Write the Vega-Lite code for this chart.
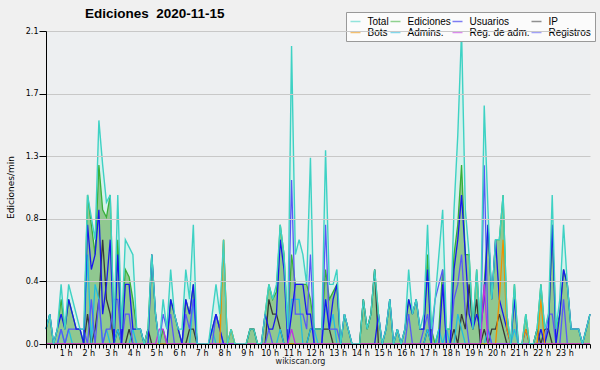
{
 "$schema": "https://vega.github.io/schema/vega-lite/v6.json",
 "width": 544, "height": 313,
 "autosize": {"type": "none"},
 "padding": {"left": 46, "top": 31, "right": 10, "bottom": 26},
 "background": "#f0f0f0",
 "config": {"view": {"fill": "#edeff1", "stroke": null}, "font": "DejaVu Sans"},
 "title": {"text": "Ediciones\u00a0 2020-11-15", "anchor": "start", "frame": "group", "dx": 39, "dy": 18, "offset": 9, "fontSize": 13.5, "fontWeight": "bold", "font": "Liberation Sans", "color": "#000"},
 "data": {"values": [
{"m":0,"tot":0.1,"ed":0.1,"usr":0.1,"ip":0,"bot":0,"adm":0,"radm":0,"reg":0},
{"m":10,"tot":0.2,"ed":0.2,"usr":0.2,"ip":0,"bot":0,"adm":0,"radm":0,"reg":0},
{"m":20,"tot":0,"ed":0,"usr":0,"ip":0,"bot":0,"adm":0,"radm":0,"reg":0},
{"m":30,"tot":0.1,"ed":0.1,"usr":0.1,"ip":0,"bot":0,"adm":0,"radm":0,"reg":0},
{"m":40,"tot":0.4,"ed":0.3,"usr":0.2,"ip":0,"bot":0,"adm":0.1,"radm":0,"reg":0.1},
{"m":50,"tot":0.1,"ed":0.1,"usr":0.1,"ip":0,"bot":0,"adm":0,"radm":0,"reg":0},
{"m":60,"tot":0.4,"ed":0.3,"usr":0.3,"ip":0,"bot":0,"adm":0.1,"radm":0,"reg":0.1},
{"m":70,"tot":0.3,"ed":0.2,"usr":0.2,"ip":0,"bot":0,"adm":0,"radm":0,"reg":0.1},
{"m":80,"tot":0.2,"ed":0.1,"usr":0.1,"ip":0,"bot":0,"adm":0,"radm":0,"reg":0.1},
{"m":90,"tot":0.1,"ed":0.1,"usr":0.1,"ip":0,"bot":0,"adm":0,"radm":0,"reg":0.1},
{"m":100,"tot":0.1,"ed":0,"usr":0,"ip":0,"bot":0,"adm":0,"radm":0,"reg":0.1},
{"m":110,"tot":1.0,"ed":1.0,"usr":0.8,"ip":0.2,"bot":0,"adm":0.6,"radm":0,"reg":0},
{"m":120,"tot":0.85,"ed":0.8,"usr":0.5,"ip":0,"bot":0,"adm":0,"radm":0,"reg":0.3},
{"m":130,"tot":0.7,"ed":0.6,"usr":0.6,"ip":0.1,"bot":0,"adm":0.4,"radm":0,"reg":0},
{"m":140,"tot":1.5,"ed":1.2,"usr":0.9,"ip":0.3,"bot":0,"adm":0.3,"radm":0,"reg":0.3},
{"m":150,"tot":1.2,"ed":0.9,"usr":0.2,"ip":0.7,"bot":0,"adm":0,"radm":0,"reg":0},
{"m":160,"tot":0.95,"ed":0.85,"usr":0.4,"ip":0.3,"bot":0,"adm":0.1,"radm":0,"reg":0.1},
{"m":170,"tot":1.0,"ed":1.0,"usr":0.7,"ip":0.2,"bot":0,"adm":0,"radm":0,"reg":0.1},
{"m":180,"tot":0.1,"ed":0.1,"usr":0,"ip":0,"bot":0,"adm":0,"radm":0,"reg":0.3},
{"m":190,"tot":1.0,"ed":0.7,"usr":0.6,"ip":0.1,"bot":0,"adm":0.1,"radm":0,"reg":0.3},
{"m":200,"tot":0.1,"ed":0.1,"usr":0,"ip":0,"bot":0,"adm":0,"radm":0,"reg":0},
{"m":210,"tot":0.7,"ed":0.5,"usr":0.4,"ip":0,"bot":0,"adm":0,"radm":0,"reg":0.2},
{"m":220,"tot":0.65,"ed":0.45,"usr":0.4,"ip":0.1,"bot":0,"adm":0,"radm":0,"reg":0.2},
{"m":230,"tot":0.6,"ed":0.3,"usr":0.1,"ip":0,"bot":0,"adm":0.1,"radm":0,"reg":0},
{"m":240,"tot":0.1,"ed":0.1,"usr":0.1,"ip":0,"bot":0,"adm":0,"radm":0,"reg":0},
{"m":250,"tot":0.1,"ed":0.1,"usr":0.1,"ip":0,"bot":0,"adm":0,"radm":0,"reg":0},
{"m":260,"tot":0,"ed":0,"usr":0,"ip":0,"bot":0,"adm":0,"radm":0,"reg":0},
{"m":270,"tot":0.1,"ed":0.1,"usr":0,"ip":0.1,"bot":0,"adm":0,"radm":0,"reg":0},
{"m":280,"tot":0.6,"ed":0.6,"usr":0.6,"ip":0,"bot":0,"adm":0,"radm":0,"reg":0},
{"m":290,"tot":0.2,"ed":0.2,"usr":0.2,"ip":0,"bot":0,"adm":0,"radm":0,"reg":0},
{"m":300,"tot":0,"ed":0,"usr":0,"ip":0,"bot":0,"adm":0,"radm":0.1,"reg":0},
{"m":310,"tot":0.3,"ed":0.1,"usr":0,"ip":0,"bot":0,"adm":0,"radm":0.1,"reg":0.2},
{"m":320,"tot":0.1,"ed":0,"usr":0,"ip":0,"bot":0,"adm":0,"radm":0,"reg":0.1},
{"m":330,"tot":0.5,"ed":0.3,"usr":0.3,"ip":0,"bot":0,"adm":0,"radm":0,"reg":0.2},
{"m":340,"tot":0.2,"ed":0.2,"usr":0.2,"ip":0,"bot":0,"adm":0,"radm":0,"reg":0},
{"m":350,"tot":0.1,"ed":0.1,"usr":0.1,"ip":0,"bot":0,"adm":0,"radm":0,"reg":0},
{"m":360,"tot":0.1,"ed":0,"usr":0,"ip":0,"bot":0,"adm":0,"radm":0,"reg":0},
{"m":370,"tot":0.5,"ed":0.3,"usr":0.3,"ip":0,"bot":0,"adm":0,"radm":0,"reg":0.2},
{"m":380,"tot":0.3,"ed":0.2,"usr":0.2,"ip":0.1,"bot":0,"adm":0,"radm":0,"reg":0.1},
{"m":390,"tot":0.8,"ed":0.4,"usr":0.4,"ip":0.1,"bot":0,"adm":0.3,"radm":0,"reg":0.3},
{"m":400,"tot":0,"ed":0,"usr":0,"ip":0,"bot":0,"adm":0,"radm":0,"reg":0},
{"m":410,"tot":0,"ed":0,"usr":0,"ip":0,"bot":0,"adm":0,"radm":0,"reg":0},
{"m":420,"tot":0,"ed":0,"usr":0,"ip":0,"bot":0,"adm":0,"radm":0,"reg":0},
{"m":430,"tot":0,"ed":0,"usr":0,"ip":0,"bot":0,"adm":0,"radm":0,"reg":0},
{"m":440,"tot":0.2,"ed":0.1,"usr":0.1,"ip":0,"bot":0,"adm":0.1,"radm":0,"reg":0},
{"m":450,"tot":0.4,"ed":0.2,"usr":0.2,"ip":0,"bot":0,"adm":0,"radm":0,"reg":0.2},
{"m":460,"tot":0.2,"ed":0.1,"usr":0.1,"ip":0,"bot":0,"adm":0,"radm":0,"reg":0.1},
{"m":470,"tot":0.7,"ed":0.7,"usr":0,"ip":0,"bot":0.7,"adm":0,"radm":0,"reg":0},
{"m":480,"tot":0,"ed":0,"usr":0,"ip":0,"bot":0,"adm":0,"radm":0,"reg":0},
{"m":490,"tot":0.1,"ed":0.1,"usr":0,"ip":0,"bot":0.1,"adm":0,"radm":0,"reg":0},
{"m":500,"tot":0,"ed":0,"usr":0,"ip":0,"bot":0,"adm":0,"radm":0,"reg":0},
{"m":510,"tot":0,"ed":0,"usr":0,"ip":0,"bot":0,"adm":0,"radm":0,"reg":0},
{"m":520,"tot":0,"ed":0,"usr":0,"ip":0,"bot":0,"adm":0,"radm":0,"reg":0},
{"m":530,"tot":0,"ed":0,"usr":0,"ip":0,"bot":0,"adm":0,"radm":0,"reg":0},
{"m":540,"tot":0.1,"ed":0.1,"usr":0,"ip":0.1,"bot":0,"adm":0,"radm":0,"reg":0},
{"m":550,"tot":0.1,"ed":0.1,"usr":0,"ip":0.1,"bot":0,"adm":0,"radm":0,"reg":0},
{"m":560,"tot":0,"ed":0,"usr":0,"ip":0,"bot":0,"adm":0,"radm":0,"reg":0},
{"m":570,"tot":0,"ed":0,"usr":0,"ip":0,"bot":0,"adm":0,"radm":0,"reg":0},
{"m":580,"tot":0.2,"ed":0.2,"usr":0.2,"ip":0,"bot":0,"adm":0,"radm":0,"reg":0},
{"m":590,"tot":0.4,"ed":0.4,"usr":0.1,"ip":0.3,"bot":0,"adm":0,"radm":0,"reg":0.1},
{"m":600,"tot":0.3,"ed":0.3,"usr":0.1,"ip":0.2,"bot":0,"adm":0,"radm":0,"reg":0},
{"m":610,"tot":0.4,"ed":0.35,"usr":0.2,"ip":0.2,"bot":0,"adm":0,"radm":0,"reg":0},
{"m":620,"tot":0.8,"ed":0.8,"usr":0.7,"ip":0.1,"bot":0,"adm":0.1,"radm":0,"reg":0},
{"m":630,"tot":0.6,"ed":0.6,"usr":0.5,"ip":0,"bot":0,"adm":0,"radm":0,"reg":0},
{"m":640,"tot":0.1,"ed":0.1,"usr":0,"ip":0,"bot":0,"adm":0,"radm":0,"reg":0},
{"m":650,"tot":2.0,"ed":0.6,"usr":0.2,"ip":0,"bot":0,"adm":0.3,"radm":0.1,"reg":1.1},
{"m":660,"tot":0.6,"ed":0.4,"usr":0.4,"ip":0,"bot":0,"adm":0.3,"radm":0,"reg":0.2},
{"m":670,"tot":0.7,"ed":0.4,"usr":0.4,"ip":0,"bot":0,"adm":0.3,"radm":0,"reg":0.2},
{"m":680,"tot":0.6,"ed":0.4,"usr":0.4,"ip":0,"bot":0,"adm":0,"radm":0,"reg":0.2},
{"m":690,"tot":0.4,"ed":0.4,"usr":0.2,"ip":0,"bot":0,"adm":0,"radm":0,"reg":0.1},
{"m":700,"tot":1.25,"ed":0.3,"usr":0.2,"ip":0.1,"bot":0,"adm":0.1,"radm":0,"reg":0.6},
{"m":710,"tot":0.1,"ed":0.1,"usr":0,"ip":0.1,"bot":0,"adm":0.1,"radm":0,"reg":0},
{"m":720,"tot":0.1,"ed":0.1,"usr":0,"ip":0.1,"bot":0,"adm":0,"radm":0,"reg":0},
{"m":730,"tot":0.1,"ed":0.1,"usr":0,"ip":0.1,"bot":0,"adm":0,"radm":0,"reg":0},
{"m":740,"tot":1.3,"ed":0.5,"usr":0.3,"ip":0.1,"bot":0,"adm":0.3,"radm":0,"reg":0.8},
{"m":750,"tot":0.4,"ed":0.3,"usr":0.1,"ip":0.1,"bot":0,"adm":0.1,"radm":0,"reg":0.1},
{"m":760,"tot":0.4,"ed":0.35,"usr":0.3,"ip":0,"bot":0,"adm":0.2,"radm":0,"reg":0.1},
{"m":770,"tot":0.5,"ed":0.4,"usr":0.4,"ip":0,"bot":0,"adm":0,"radm":0,"reg":0.1},
{"m":780,"tot":0,"ed":0,"usr":0,"ip":0,"bot":0,"adm":0,"radm":0,"reg":0},
{"m":790,"tot":0.2,"ed":0.2,"usr":0.2,"ip":0,"bot":0,"adm":0,"radm":0,"reg":0},
{"m":800,"tot":0.1,"ed":0.1,"usr":0.1,"ip":0,"bot":0,"adm":0,"radm":0,"reg":0},
{"m":810,"tot":0,"ed":0,"usr":0,"ip":0,"bot":0,"adm":0,"radm":0,"reg":0},
{"m":820,"tot":0,"ed":0,"usr":0,"ip":0,"bot":0,"adm":0,"radm":0,"reg":0},
{"m":830,"tot":0,"ed":0,"usr":0,"ip":0,"bot":0,"adm":0,"radm":0,"reg":0},
{"m":840,"tot":0.3,"ed":0.3,"usr":0,"ip":0.3,"bot":0,"adm":0,"radm":0,"reg":0},
{"m":850,"tot":0.1,"ed":0.1,"usr":0,"ip":0.1,"bot":0,"adm":0,"radm":0,"reg":0},
{"m":860,"tot":0.2,"ed":0.2,"usr":0,"ip":0.2,"bot":0,"adm":0,"radm":0,"reg":0},
{"m":870,"tot":0.5,"ed":0.5,"usr":0,"ip":0.5,"bot":0,"adm":0,"radm":0,"reg":0},
{"m":880,"tot":0.2,"ed":0.2,"usr":0.2,"ip":0,"bot":0,"adm":0,"radm":0,"reg":0},
{"m":890,"tot":0,"ed":0,"usr":0,"ip":0,"bot":0,"adm":0,"radm":0,"reg":0},
{"m":900,"tot":0.1,"ed":0.1,"usr":0.1,"ip":0,"bot":0,"adm":0,"radm":0,"reg":0},
{"m":910,"tot":0.3,"ed":0.3,"usr":0.3,"ip":0,"bot":0,"adm":0,"radm":0,"reg":0},
{"m":920,"tot":0,"ed":0,"usr":0,"ip":0,"bot":0,"adm":0,"radm":0,"reg":0},
{"m":930,"tot":0.1,"ed":0.1,"usr":0.1,"ip":0,"bot":0,"adm":0,"radm":0,"reg":0},
{"m":940,"tot":0,"ed":0,"usr":0,"ip":0,"bot":0,"adm":0,"radm":0,"reg":0},
{"m":950,"tot":0.1,"ed":0.1,"usr":0.1,"ip":0,"bot":0,"adm":0,"radm":0,"reg":0},
{"m":960,"tot":0.5,"ed":0.3,"usr":0.3,"ip":0,"bot":0,"adm":0,"radm":0,"reg":0.2},
{"m":970,"tot":0.2,"ed":0.2,"usr":0.2,"ip":0,"bot":0,"adm":0,"radm":0,"reg":0},
{"m":980,"tot":0.3,"ed":0.3,"usr":0.3,"ip":0,"bot":0,"adm":0,"radm":0,"reg":0},
{"m":990,"tot":0.1,"ed":0.1,"usr":0.1,"ip":0,"bot":0,"adm":0,"radm":0,"reg":0},
{"m":1000,"tot":0.2,"ed":0.1,"usr":0.1,"ip":0,"bot":0,"adm":0,"radm":0,"reg":0.1},
{"m":1010,"tot":0.8,"ed":0.6,"usr":0.5,"ip":0.1,"bot":0,"adm":0.1,"radm":0,"reg":0.2},
{"m":1020,"tot":0.1,"ed":0.1,"usr":0,"ip":0,"bot":0,"adm":0,"radm":0,"reg":0},
{"m":1030,"tot":0.3,"ed":0,"usr":0,"ip":0,"bot":0,"adm":0,"radm":0,"reg":0.3},
{"m":1040,"tot":0.6,"ed":0.1,"usr":0,"ip":0,"bot":0,"adm":0.1,"radm":0,"reg":0.4},
{"m":1050,"tot":0.9,"ed":0.5,"usr":0.4,"ip":0,"bot":0,"adm":0,"radm":0,"reg":0.5},
{"m":1060,"tot":0.1,"ed":0.1,"usr":0,"ip":0,"bot":0,"adm":0.1,"radm":0,"reg":0},
{"m":1070,"tot":0.1,"ed":0.1,"usr":0,"ip":0,"bot":0,"adm":0,"radm":0,"reg":0},
{"m":1080,"tot":0.9,"ed":0.6,"usr":0.5,"ip":0.1,"bot":0,"adm":0,"radm":0,"reg":0.3},
{"m":1090,"tot":1.4,"ed":0.8,"usr":0.7,"ip":0,"bot":0,"adm":0.2,"radm":0,"reg":0.4},
{"m":1100,"tot":2.1,"ed":1.2,"usr":1.0,"ip":0.2,"bot":0,"adm":0.1,"radm":0,"reg":0.6},
{"m":1110,"tot":0.9,"ed":0.6,"usr":0.6,"ip":0.1,"bot":0,"adm":0,"radm":0,"reg":0.2},
{"m":1120,"tot":0.6,"ed":0.6,"usr":0.2,"ip":0.4,"bot":0,"adm":0,"radm":0,"reg":0},
{"m":1130,"tot":0.1,"ed":0.1,"usr":0.1,"ip":0.1,"bot":0,"adm":0,"radm":0,"reg":0},
{"m":1140,"tot":0.5,"ed":0.5,"usr":0.2,"ip":0.3,"bot":0,"adm":0,"radm":0,"reg":0},
{"m":1150,"tot":0.1,"ed":0.1,"usr":0.1,"ip":0,"bot":0,"adm":0,"radm":0,"reg":0},
{"m":1160,"tot":1.6,"ed":0.4,"usr":0.3,"ip":0.1,"bot":0,"adm":0,"radm":0.4,"reg":1.2},
{"m":1170,"tot":0.9,"ed":0.8,"usr":0.8,"ip":0,"bot":0,"adm":0.1,"radm":0,"reg":0.1},
{"m":1180,"tot":0.3,"ed":0.3,"usr":0.3,"ip":0.1,"bot":0,"adm":0,"radm":0,"reg":0},
{"m":1190,"tot":0.7,"ed":0.7,"usr":0.7,"ip":0.1,"bot":0,"adm":0,"radm":0,"reg":0},
{"m":1200,"tot":0.7,"ed":0.7,"usr":0.3,"ip":0.2,"bot":0.3,"adm":0,"radm":0,"reg":0},
{"m":1210,"tot":1.0,"ed":1.0,"usr":0.2,"ip":0.1,"bot":0.7,"adm":0,"radm":0,"reg":0},
{"m":1220,"tot":0.2,"ed":0.2,"usr":0.1,"ip":0,"bot":0.1,"adm":0,"radm":0,"reg":0},
{"m":1230,"tot":0,"ed":0,"usr":0,"ip":0,"bot":0,"adm":0,"radm":0,"reg":0},
{"m":1240,"tot":0.4,"ed":0.4,"usr":0.3,"ip":0,"bot":0,"adm":0.1,"radm":0,"reg":0},
{"m":1250,"tot":0,"ed":0,"usr":0,"ip":0,"bot":0,"adm":0,"radm":0,"reg":0},
{"m":1260,"tot":0,"ed":0,"usr":0,"ip":0,"bot":0,"adm":0,"radm":0,"reg":0},
{"m":1270,"tot":0.2,"ed":0.2,"usr":0.1,"ip":0,"bot":0.1,"adm":0,"radm":0,"reg":0},
{"m":1280,"tot":0,"ed":0,"usr":0,"ip":0,"bot":0,"adm":0,"radm":0,"reg":0},
{"m":1290,"tot":0,"ed":0,"usr":0,"ip":0,"bot":0,"adm":0,"radm":0,"reg":0},
{"m":1300,"tot":0.1,"ed":0.1,"usr":0,"ip":0.1,"bot":0,"adm":0,"radm":0,"reg":0},
{"m":1310,"tot":0.4,"ed":0.4,"usr":0.1,"ip":0,"bot":0.3,"adm":0,"radm":0,"reg":0},
{"m":1320,"tot":0.1,"ed":0.1,"usr":0,"ip":0.1,"bot":0,"adm":0,"radm":0,"reg":0},
{"m":1330,"tot":0.2,"ed":0.1,"usr":0.1,"ip":0.1,"bot":0,"adm":0,"radm":0,"reg":0.2},
{"m":1340,"tot":1.0,"ed":0.8,"usr":0.8,"ip":0,"bot":0,"adm":0,"radm":0,"reg":0.2},
{"m":1350,"tot":0.1,"ed":0.1,"usr":0,"ip":0,"bot":0,"adm":0,"radm":0,"reg":0},
{"m":1360,"tot":0.3,"ed":0.2,"usr":0.2,"ip":0,"bot":0,"adm":0,"radm":0,"reg":0},
{"m":1370,"tot":0.8,"ed":0.5,"usr":0.5,"ip":0,"bot":0,"adm":0,"radm":0,"reg":0.3},
{"m":1380,"tot":0.4,"ed":0.4,"usr":0.4,"ip":0,"bot":0,"adm":0,"radm":0,"reg":0},
{"m":1390,"tot":0.1,"ed":0.1,"usr":0.1,"ip":0,"bot":0,"adm":0,"radm":0,"reg":0},
{"m":1400,"tot":0.1,"ed":0.1,"usr":0.1,"ip":0,"bot":0,"adm":0,"radm":0,"reg":0},
{"m":1410,"tot":0.1,"ed":0.1,"usr":0.1,"ip":0,"bot":0,"adm":0,"radm":0,"reg":0},
{"m":1420,"tot":0,"ed":0,"usr":0,"ip":0,"bot":0,"adm":0,"radm":0,"reg":0},
{"m":1430,"tot":0.1,"ed":0.1,"usr":0.1,"ip":0,"bot":0,"adm":0,"radm":0,"reg":0},
{"m":1440,"tot":0.2,"ed":0.2,"usr":0.2,"ip":0,"bot":0,"adm":0,"radm":0,"reg":0}
 ]},
 "encoding": {
  "x": {"field": "m", "type": "quantitative", "scale": {"domain": [0, 1440], "nice": false, "zero": false},
   "axis": {"values": [0,10,20,30,40,50,60,70,80,90,100,110,120,130,140,150,160,170,180,190,200,210,220,230,240,250,260,270,280,290,300,310,320,330,340,350,360,370,380,390,400,410,420,430,440,450,460,470,480,490,500,510,520,530,540,550,560,570,580,590,600,610,620,630,640,650,660,670,680,690,700,710,720,730,740,750,760,770,780,790,800,810,820,830,840,850,860,870,880,890,900,910,920,930,940,950,960,970,980,990,1000,1010,1020,1030,1040,1050,1060,1070,1080,1090,1100,1110,1120,1130,1140,1150,1160,1170,1180,1190,1200,1210,1220,1230,1240,1250,1260,1270,1280,1290,1300,1310,1320,1330,1340,1350,1360,1370,1380,1390,1400,1410,1420,1430,1440],
    "labelExpr": "datum.value % 60 == 0 && datum.value > 0 && datum.value < 1440 ? (datum.value / 60) + ' h' : ''",
    "labelOverlap": false, "labelBound": false, "labelFlush": false,
    "labelFontSize": 8, "labelPadding": 1, "labelOffset": -3, "labelColor": "#000",
    "tickSize": 4, "tickColor": "#000", "domainColor": "#000", "grid": false, "zindex": 1,
    "title": "wikiscan.org", "titleFontSize": 8, "titleFontWeight": "normal", "titleColor": "#222", "titleX": 254, "titleY": 13, "titleBaseline": "top"}}
 },
 "layer": [
  {"mark": {"type": "area", "color": "#d5f1ec", "opacity": 1, "interpolate": "linear"},
   "encoding": {"y": {"field": "tot", "type": "quantitative", "scale": {"domain": [0, 2.1], "nice": false, "zero": true},
    "axis": {"values": [0,0.105,0.21,0.315,0.42,0.525,0.63,0.735,0.84,0.945,1.05,1.155,1.26,1.365,1.47,1.575,1.68,1.785,1.89,1.995,2.1],
     "labelExpr": "round(datum.value / 0.105) % 4 == 0 ? format(datum.value, '.1f') : ''",
     "labelOverlap": false, "labelBound": false, "labelFlush": false,
     "labelFontSize": 8, "labelPadding": 1, "labelColor": "#000",
     "tickSize": {"condition": {"test": "round(datum.value / 0.105) % 4 == 0", "value": 7}, "value": 3},
     "tickColor": "#000", "domainColor": "#000",
     "grid": true, "gridColor": "#c8c8c8",
     "gridOpacity": {"condition": {"test": "round(datum.value / 0.105) % 4 == 0 && datum.value > 0", "value": 1}, "value": 0},
     "zindex": 1,
     "title": "Ediciones/min", "titleFontSize": 9, "titleFontWeight": "normal", "titleColor": "#000",
     "titleX": -36, "titleY": 156, "titleAngle": -90, "titleAlign": "center", "titleBaseline": "middle"}}}},
  {"mark": {"type": "area", "color": "#90c890", "opacity": 1},
   "encoding": {"y": {"field": "ed", "type": "quantitative"}}},
  {"mark": {"type": "line", "strokeWidth": 1.3},
   "encoding": {"y": {"field": "ed", "type": "quantitative"},
    "color": {"datum": "Ediciones", "type": "nominal",
     "scale": {"domain": ["Total", "Ediciones", "Usuarios", "IP", "Bots", "Admins.", "Reg. de adm.", "Registros"],
      "range": ["#3ed2c4", "#38b038", "#1818ee", "#383838", "#f09000", "#22bce0", "#c030e0", "#5858f6"]},
     "legend": {"orient": "none", "legendX": 300, "legendY": -19, "columns": 4, "direction": "horizontal", "gridAlign": "each",
      "title": null, "symbolType": "stroke", "symbolSize": 100, "symbolStrokeWidth": 1.5, "symbolOpacity": 0.55,
      "labelFontSize": 10, "labelColor": "#000", "labelFont": "Liberation Sans", "labelOffset": 6,
      "rowPadding": -4, "columnPadding": -5, "padding": 3.5, "symbolOffset": 0,
      "fillColor": "#fbfbfb", "strokeColor": "#999999"}}}},
  {"mark": {"type": "line", "strokeWidth": 1.3},
   "encoding": {"y": {"field": "ip", "type": "quantitative"}, "color": {"datum": "IP", "type": "nominal"}}},
  {"mark": {"type": "line", "strokeWidth": 1.3},
   "encoding": {"y": {"field": "adm", "type": "quantitative"}, "color": {"datum": "Admins.", "type": "nominal"}}},
  {"mark": {"type": "line", "strokeWidth": 1.3},
   "encoding": {"y": {"field": "reg", "type": "quantitative"}, "color": {"datum": "Registros", "type": "nominal"}}},
  {"mark": {"type": "line", "strokeWidth": 1.3},
   "encoding": {"y": {"field": "usr", "type": "quantitative"}, "color": {"datum": "Usuarios", "type": "nominal"}}},
  {"mark": {"type": "line", "strokeWidth": 1.3},
   "encoding": {"y": {"field": "bot", "type": "quantitative"}, "color": {"datum": "Bots", "type": "nominal"}}},
  {"mark": {"type": "line", "strokeWidth": 1.3},
   "encoding": {"y": {"field": "radm", "type": "quantitative"}, "color": {"datum": "Reg. de adm.", "type": "nominal"}}},
  {"mark": {"type": "line", "strokeWidth": 1.4},
   "encoding": {"y": {"field": "tot", "type": "quantitative"}, "color": {"datum": "Total", "type": "nominal"}}},
  {"data": {"values": [{"label": "CC BY-SA 3.0"}]},
   "mark": {"type": "text", "align": "right", "baseline": "middle", "fontSize": 7, "color": "#222"},
   "encoding": {"x": {"datum": 1440}, "y": {"datum": -0.115}, "text": {"field": "label"}}}
 ]
}
